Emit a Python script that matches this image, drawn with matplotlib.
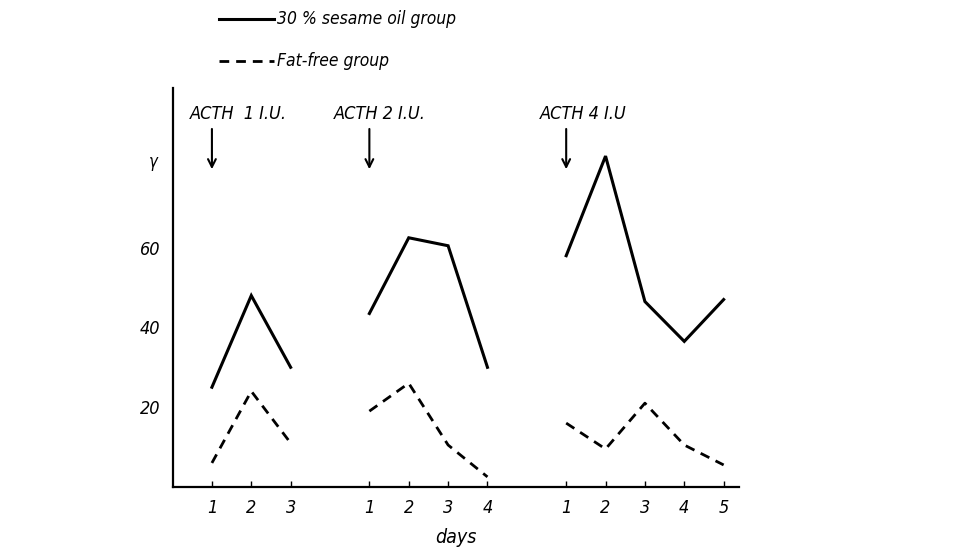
import matplotlib
matplotlib.use("Agg")
import matplotlib.pyplot as plt

# day positions on the x scale (gaps between the three ACTH series)
days_1 = [1, 2, 3]
days_2 = [5, 6, 7, 8]
days_3 = [10, 11, 12, 13, 14]
day_labels = ["1", "2", "3", "1", "2", "3", "4", "1", "2", "3", "4", "5"]

# 30 % sesame oil group
sesame_1 = [25, 48, 30]
sesame_2 = [43.5, 62.5, 60.5, 30]
sesame_3 = [58, 83, 46.5, 36.5, 47]

# fat-free group
fatfree_1 = [6, 24, 11]
fatfree_2 = [19, 26, 10.5, 2.5]
fatfree_3 = [16, 9.5, 21, 10.5, 5.5]

acth_labels = ["ACTH  1 I.U.", "ACTH 2 I.U.", "ACTH 4 I.U"]
acth_days = [1, 5, 10]
yticks = [20, 40, 60]

plt.rcParams['font.family'] = ['DejaVu Sans']
plt.rcParams['font.stretch'] = 'condensed'
plt.rcParams['font.style'] = 'italic'

fig = plt.figure(figsize=(9.64, 5.52), dpi=100)
ax = fig.add_axes([0.179, 0.118, 0.588, 0.722])

solid = dict(color='black', linewidth=2.2, linestyle='-', solid_joinstyle='miter')
dash = dict(color='black', linewidth=2.0, linestyle=(0, (3.5, 2.5)))

for d, s in zip([days_1, days_2, days_3], [sesame_1, sesame_2, sesame_3]):
    ax.plot(d, s, **solid)
for d, f in zip([days_1, days_2, days_3], [fatfree_1, fatfree_2, fatfree_3]):
    ax.plot(d, f, **dash)

# ACTH injection arrows
text_off = [-0.56, -0.9, -0.66]
for lab, d, off in zip(acth_labels, acth_days, text_off):
    ax.annotate('', xy=(d, 79), xytext=(d, 90.5),
                arrowprops=dict(arrowstyle='->', color='black', lw=1.5,
                                mutation_scale=14))
    ax.text(d + off, 93.5, lab, fontsize=13, ha='left', va='center')

ax.set_xlim(0, 14.4)
ax.set_ylim(0, 100)
ax.set_xticks(days_1 + days_2 + days_3)
ax.set_xticklabels(day_labels, fontsize=13)
ax.set_yticks(yticks)
ax.set_yticklabels([str(v) for v in yticks], fontsize=13)
ax.tick_params(axis='x', direction='in', length=4, width=1, pad=9)
ax.tick_params(axis='y', direction='in', length=0, pad=9)
ax.text(-0.5, 81.5, 'γ', fontsize=12, ha='center', va='center')

for sp in ['top', 'right']:
    ax.spines[sp].set_visible(False)
ax.spines['left'].set_linewidth(1.6)
ax.spines['bottom'].set_linewidth(1.6)

ax.set_xlabel('days', fontsize=14, labelpad=8)

# legend drawn at the top like the original
fig.lines.append(plt.Line2D([219 / 964, 274 / 964], [1 - 19 / 552, 1 - 19 / 552],
                            transform=fig.transFigure, **solid))
fig.lines.append(plt.Line2D([219 / 964, 274 / 964], [1 - 61 / 552, 1 - 61 / 552],
                            transform=fig.transFigure, **dash))
fig.text(277 / 964, 1 - 19 / 552, '30 % sesame oil group', fontsize=12.5,
         ha='left', va='center')
fig.text(277 / 964, 1 - 61 / 552, 'Fat-free group', fontsize=12.5,
         ha='left', va='center')

fig.savefig('out.png', dpi=100, facecolor='white')
